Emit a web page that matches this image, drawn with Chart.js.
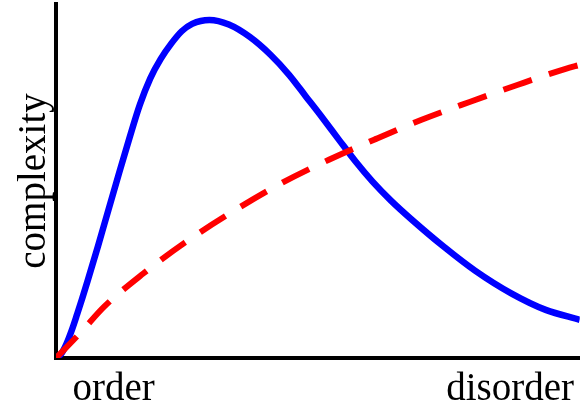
<!DOCTYPE html>
<html lang="en">
<head>
  <meta charset="UTF-8" />
  <title>Complexity vs disorder</title>
  <script src="https://cdn.jsdelivr.net/npm/chart.js"></script>
  <style>
    html, body { margin: 0; padding: 0; background: white; }
    #wrap { width: 582px; height: 408px; }
  </style>
</head>
<body>
  <div id="wrap"><canvas id="chart"></canvas></div>
  <script>
    // complexity curve (blue), rises fast then falls off
    const blueX = [0, 0.1, 0.2, 0.3, 0.4, 0.5, 0.6, 0.8, 1.0, 1.2, 1.4, 1.6, 1.8, 2.0, 2.2, 2.4, 2.6, 2.93, 3.3, 3.7, 4.1, 4.45, 4.77, 5.09, 5.4, 5.72, 6.04, 6.4, 6.8, 7.4, 8.0, 8.7, 9.35, 10];
    const blueY = [0, 0.12, 0.4, 0.78, 1.22, 1.68, 2.16, 3.15, 4.18, 5.2, 6.2, 7.15, 7.9, 8.45, 8.88, 9.23, 9.44, 9.55, 9.42, 9.07, 8.56, 8.0, 7.39, 6.78, 6.17, 5.55, 4.99, 4.44, 3.9, 3.15, 2.47, 1.82, 1.36, 1.08];

    // entropy-like curve (red dashed)
    const redX = [0, 0.47, 0.92, 1.66, 2.46, 3.50, 4.32, 5.21, 6.11, 6.98, 7.91, 8.82, 9.73, 10];
    const redY = [0, 0.72, 1.45, 2.38, 3.26, 4.25, 4.95, 5.60, 6.19, 6.73, 7.24, 7.72, 8.17, 8.28];

    const xTickValues = [1.1, 8.67];
    const xTickLabels = ["order", "disorder"];
    const yTitle = "complexity";

    const toPoints = (xs, ys) => xs.map((x, i) => ({ x: x, y: ys[i] }));
    const labelFont = { family: "'Liberation Serif', 'Times New Roman', serif", size: 39 };

    new Chart(document.getElementById("chart"), {
      type: "line",
      data: {
        datasets: [
          {
            data: toPoints(redX, redY),
            borderColor: "#ff0000",
            borderWidth: 6,
            borderDash: [30, 18],
            borderCapStyle: "butt",
            pointRadius: 0,
            cubicInterpolationMode: "monotone",
            fill: false
          },
          {
            data: toPoints(blueX, blueY),
            borderColor: "#0000ff",
            borderWidth: 6.5,
            pointRadius: 0,
            cubicInterpolationMode: "monotone",
            fill: false
          }
        ]
      },
      options: {
        responsive: true,
        maintainAspectRatio: false,
        animation: false,
        layout: { padding: { top: 4, right: 0, left: 0, bottom: 0 } },
        plugins: {
          legend: { display: false },
          tooltip: { enabled: false }
        },
        scales: {
          x: {
            type: "linear",
            min: 0,
            max: 10,
            grid: { display: false, drawTicks: false },
            border: { display: true, color: "#000", width: 4 },
            afterBuildTicks: s => { s.ticks = xTickValues.map(v => ({ value: v })); },
            afterFit: s => { s.height = 50; },
            ticks: {
              color: "#000",
              font: labelFont,
              padding: 8,
              maxRotation: 0,
              autoSkip: false,
              callback: (v, i) => xTickLabels[i]
            }
          },
          y: {
            type: "linear",
            min: 0,
            max: 10,
            grid: { display: false, drawTicks: false },
            border: { display: true, color: "#000", width: 4 },
            afterFit: s => { s.width = 56; },
            ticks: { display: false },
            title: {
              display: true,
              text: yTitle,
              color: "#000",
              font: labelFont,
              padding: { top: 11, bottom: 0 }
            }
          }
        }
      }
    });
  </script>
</body>
</html>
